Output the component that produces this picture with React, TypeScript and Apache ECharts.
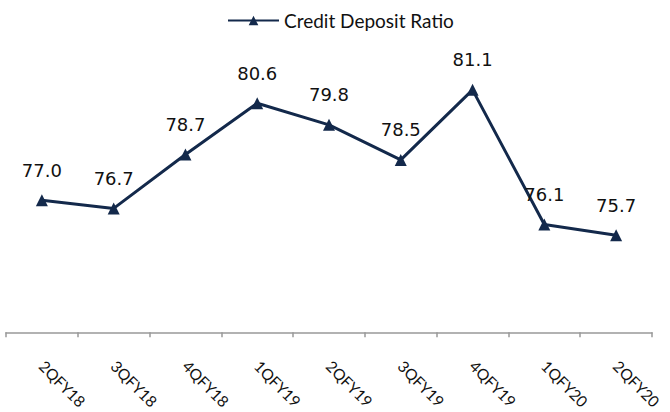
import React, { useEffect, useRef } from "react";
import * as echarts from "echarts";

const categories = ["2QFY18", "3QFY18", "4QFY18", "1QFY19", "2QFY19", "3QFY19", "4QFY19", "1QFY20", "2QFY20"];
const creditDepositRatio = [77.0, 76.7, 78.7, 80.6, 79.8, 78.5, 81.1, 76.1, 75.7];
const seriesName = "Credit Deposit Ratio";

const NAVY = "#13294b";

export default function App() {
  const ref = useRef<HTMLDivElement>(null);
  useEffect(() => {
    if (!ref.current) return;
    const chart = echarts.init(ref.current, undefined, { renderer: "svg" });
    chart.setOption({
      animation: false,
      backgroundColor: "#ffffff",
      legend: {
        top: 6,
        left: 222,
        itemWidth: 51,
        itemHeight: 12,
        itemGap: 5,
        textStyle: { fontFamily: "Lato", fontSize: 19, color: "#111" },
        data: [seriesName],
      },
      grid: { left: 6, right: 18, top: 9, bottom: 77, containLabel: false },
      xAxis: {
        type: "category",
        data: categories,
        boundaryGap: true,
        axisLine: { show: true, lineStyle: { color: "#999999", width: 1.5 } },
        axisTick: { show: true, alignWithLabel: false, length: 5, lineStyle: { color: "#999999", width: 1.5 } },
        axisLabel: {
          rotate: -45,
          margin: 31,
          fontFamily: "Lato",
          fontSize: 15.5,
          color: "#111",
          interval: 0,
        },
      },
      yAxis: {
        type: "value",
        min: 72.1,
        max: 84.1,
        show: false,
        splitLine: { show: false },
      },
      series: [
        {
          name: seriesName,
          type: "line",
          data: creditDepositRatio,
          symbol: "triangle",
          symbolSize: 12,
          itemStyle: { color: NAVY },
          lineStyle: { color: NAVY, width: 3 },
          label: {
            show: true,
            position: "top",
            distance: 15,
            fontFamily: "DejaVu Sans",
            fontSize: 18,
            color: "#111",
            formatter: (p: any) => Number(p.value).toFixed(1),
          },
        },
      ],
    });
    return () => chart.dispose();
  }, []);
  return (
    <div style={{ position: "fixed", left: 0, top: 0, width: 670, height: 412, overflow: "hidden" }}>
      <div ref={ref} style={{ width: 670, height: 412 }} />
    </div>
  );
}
